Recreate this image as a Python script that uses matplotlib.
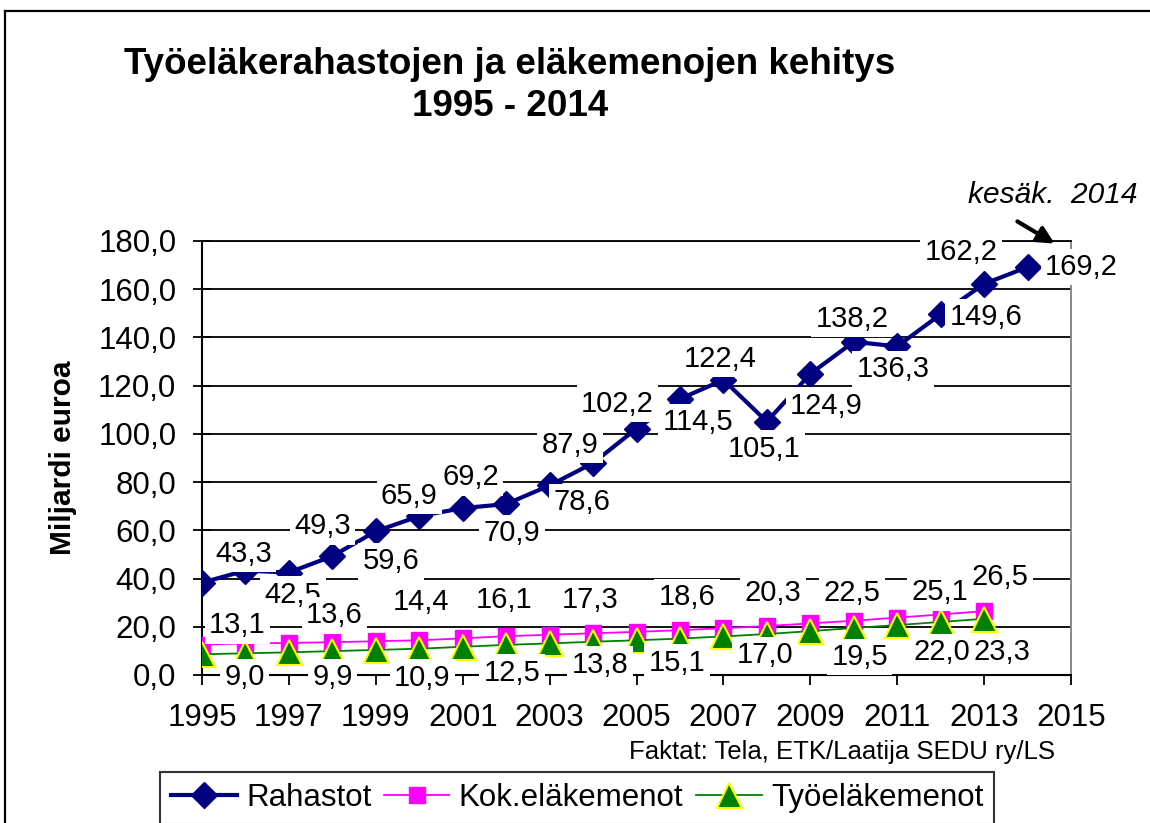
import matplotlib
matplotlib.use("Agg")
import matplotlib.pyplot as plt
from matplotlib.lines import Line2D

plt.rcParams['font.family'] = ['Liberation Sans', 'DejaVu Sans']

# aineisto
vuodet_r = list(range(1995, 2015))
rahastot = [38.3, 43.3, 42.5, 49.3, 59.6, 65.9, 69.2, 70.9, 78.6, 87.9,
            102.2, 114.5, 122.4, 105.1, 124.9, 138.2, 136.3, 149.6, 162.2, 169.2]
vuodet_m = list(range(1995, 2014))
kok_menot = [12.6, 13.1, 13.3, 13.6, 14.0, 14.4, 15.2, 16.1, 16.7, 17.3,
             17.9, 18.6, 19.4, 20.3, 21.4, 22.5, 23.8, 25.1, 26.5]
tyo_menot = [8.6, 9.0, 9.4, 9.9, 10.4, 10.9, 11.7, 12.5, 13.1, 13.8,
             14.4, 15.1, 16.0, 17.0, 18.2, 19.5, 20.7, 22.0, 23.3]
nimet = ['Rahastot', 'Kok.eläkemenot', 'Työeläkemenot']

# arvot näytetään näille vuosille
kok_tyo_nayta = [1996, 1998, 2000, 2002, 2004, 2006, 2008, 2010, 2012, 2013]

# tekstien siirrot (px, x oikealle, y alas)
siirto_r = {1996: (-2, -17), 1997: (4, 22), 1998: (-10, -30), 1999: (15, 30),
            2000: (-10, -20), 2001: (8, -31), 2002: (6, 29), 2003: (32, 17),
            2004: (-23, -18), 2005: (-19, -25), 2006: (18, 23), 2007: (-3, -21),
            2008: (-3, 27), 2009: (16, 32), 2010: (-2, -23), 2011: (-4, 23),
            2012: (45, 3), 2013: (-23, -32), 2014: (54, 0)}
siirto_k = [(-8, -18), (2, -27), (2, -38), (-2, -36), (-3, -33),
            (7, -33), (6, -33), (-2, -28), (-1, -22), (16, -34)]
siirto_t = [(-1, 24), (0, 26), (3, 29), (6, 28), (7, 23),
            (-3, 24), (-2, 21), (6, 29), (1, 30), (18, 33)]


def fi(v):
    return ('%.1f' % v).replace('.', ',')


fig = plt.figure(figsize=(11.5, 8.23), dpi=100)
ax = fig.add_axes([202 / 1150, 1 - 675 / 823, (1071 - 202) / 1150, (675 - 241) / 823])

ax.plot(vuodet_r, rahastot, color='#000080', lw=3, marker='D', markersize=13,
        markerfacecolor='#000080', markeredgecolor='#000080', label=nimet[0], zorder=4)
ax.plot(vuodet_m, kok_menot, color='#FF00FF', lw=1.3, marker='s', markersize=11,
        markerfacecolor='#FF00FF', markeredgecolor='#FF00FF', label=nimet[1], zorder=3)
ax.plot(vuodet_m, tyo_menot, color='#008000', lw=1.3, marker='^', markersize=18,
        markerfacecolor='#008000', markeredgecolor='#FFFF00', markeredgewidth=1.5,
        label=nimet[2], zorder=3)

laatikko = dict(boxstyle='square,pad=0.15', fc='white', ec='none')
for x, y in zip(vuodet_r, rahastot):
    if x in siirto_r:
        dx, dy = siirto_r[x]
        ax.annotate(fi(y), (x, y), xytext=(dx, -dy), textcoords='offset pixels',
                    ha='center', va='center', fontsize=21, bbox=laatikko, zorder=6)
for i, v in enumerate(kok_tyo_nayta):
    j = vuodet_m.index(v)
    dx, dy = siirto_k[i]
    ax.annotate(fi(kok_menot[j]), (v, kok_menot[j]), xytext=(dx, -dy),
                textcoords='offset pixels', ha='center', va='center',
                fontsize=21, bbox=laatikko, zorder=6)
    dx, dy = siirto_t[i]
    ax.annotate(fi(tyo_menot[j]), (v, tyo_menot[j]), xytext=(dx, -dy),
                textcoords='offset pixels', ha='center', va='center',
                fontsize=21, bbox=laatikko, zorder=6)

ax.set_xlim(1995, 2015)
ax.set_ylim(0, 180)
ax.set_xticks(range(1995, 2016, 2))
ax.set_yticks(range(0, 181, 20))
ax.set_yticklabels([fi(v) for v in range(0, 181, 20)])
ax.yaxis.grid(True, color='black', lw=1.3)
ax.set_axisbelow(True)
ax.tick_params(axis='x', direction='out', length=7, width=1.3, labelsize=22.5, pad=13)
ax.tick_params(axis='y', direction='inout', length=13, width=1.3, labelsize=22.5, pad=12)
ax.spines['left'].set_linewidth(1.5)
ax.spines['bottom'].set_linewidth(1.5)
ax.spines['top'].set_linewidth(1.3)
ax.spines['right'].set_color('#808080')
ax.spines['right'].set_linewidth(1.3)
ax.set_ylabel('Miljardi euroa', fontsize=21.5, fontweight='bold', labelpad=15)

# nuoli ja huomautus
ax.annotate('', xy=(1057 / 1150, 1 - 245 / 823), xycoords='figure fraction',
            xytext=(1015 / 1150, 1 - 220 / 823), textcoords='figure fraction',
            arrowprops=dict(arrowstyle='-|>', color='black', lw=3, mutation_scale=25))
fig.text(1053 / 1150, 1 - 195 / 823, 'kesäk.  2014', fontsize=21.5, style='italic',
         ha='center', va='center')

fig.text(510 / 1150, 1 - 65 / 823, 'Työeläkerahastojen ja eläkemenojen kehitys',
         fontsize=26.5, fontweight='bold', ha='center', va='center')
fig.text(510 / 1150, 1 - 107 / 823, '1995 - 2014',
         fontsize=26.5, fontweight='bold', ha='center', va='center')
fig.text(1055 / 1150, 1 - 752 / 823, 'Faktat: Tela, ETK/Laatija SEDU ry/LS',
         fontsize=18.5, ha='right', va='center')

leg = fig.legend(loc='upper left', bbox_to_anchor=(160 / 1150, 1 - 772 / 823),
                 ncol=3, fontsize=22.5, frameon=True, fancybox=False,
                 handlelength=2.1, handletextpad=0.3, columnspacing=0.4,
                 borderpad=0.35, borderaxespad=0)
leg.get_frame().set_edgecolor('black')
leg.get_frame().set_linewidth(1.5)

# kehys
fig.add_artist(Line2D([5 / 1150, 5 / 1150], [0, 1 - 11 / 823], color='black', lw=1.6))
fig.add_artist(Line2D([5 / 1150, 1], [1 - 11 / 823, 1 - 11 / 823], color='black', lw=1.6))

fig.savefig('out.png', dpi=100)
